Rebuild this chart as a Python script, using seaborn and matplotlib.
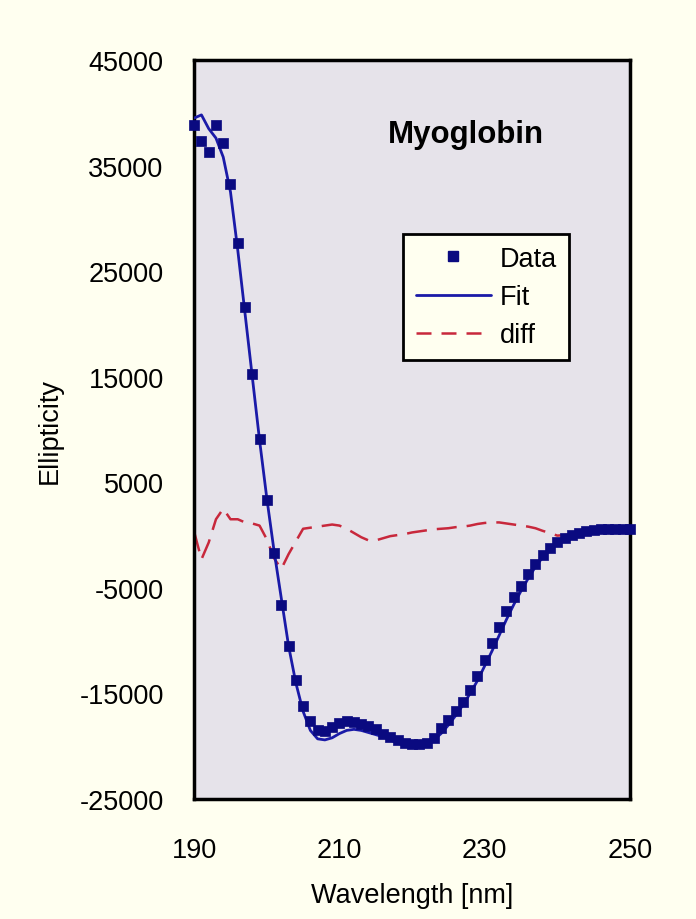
import numpy as np
import pandas as pd
import matplotlib
matplotlib.use("Agg")
import matplotlib.pyplot as plt
import seaborn as sns
from matplotlib.lines import Line2D

wavelength = list(range(190, 251))

data_vals = [38800, 37300, 36300, 38800, 37100, 33300, 27700, 21600, 15300, 9100,
             3300, -1700, -6600, -10500, -13700, -16200, -17600, -18500, -18600, -18200,
             -17800, -17600, -17700, -17900, -18100, -18400, -18800, -19100, -19400, -19700,
             -19800, -19800, -19700, -19200, -18300, -17500, -16700, -15800, -14700, -13300,
             -11800, -10200, -8700, -7200, -5900, -4800, -3700, -2700, -1900, -1200,
             -700, -300, 0, 200, 350, 450, 550, 600, 600, 600, 550]

fit_vals = [39500, 39800, 38500, 37600, 35800, 32500, 27000, 21000, 15000, 9000,
            3500, -1500, -6000, -10500, -14000, -16700, -18500, -19300, -19400, -19200,
            -18800, -18500, -18400, -18500, -18700, -18900, -19100, -19400, -19700, -19900,
            -20000, -20000, -19800, -19400, -18800, -18000, -17100, -16100, -15000, -13800,
            -12400, -11000, -9500, -8000, -6600, -5300, -4100, -3000, -2100, -1400,
            -800, -400, -100, 100, 300, 400, 500, 550, 600, 600, 550]

diff_vals = [300, -2300, -700, 1500, 2500, 1500, 1500, 1200, 1100, 900,
             -400, -2200, -3200, -1800, -600, 600, 700, 800, 900, 1000,
             900, 600, 200, -200, -500, -500, -300, -100, 0, 100,
             250, 350, 450, 550, 600, 650, 750, 800, 900, 1050,
             1150, 1200, 1200, 1100, 1000, 900, 800, 650, 400, 200,
             -50, 0, 100, 150, 200, 250, 300, 300, 300, 300, 300]

x_ticks = [190, 210, 230, 250]
y_ticks = [-25000, -15000, -5000, 5000, 15000, 25000, 35000, 45000]

df = pd.DataFrame({"Wavelength": wavelength, "Data": data_vals,
                   "Fit": fit_vals, "diff": diff_vals})

sns.set_theme(style="white")
plt.rcParams['font.family'] = ['Liberation Sans', 'DejaVu Sans']
plt.rcParams['text.color'] = 'black'
plt.rcParams['axes.labelcolor'] = 'black'

fig = plt.figure(figsize=(6.96, 9.2), dpi=100)
fig.patch.set_facecolor('#FFFFF0')
ax = fig.add_axes([0.279, 0.1304, 0.626, 0.8033])
ax.set_facecolor('#E6E3EA')

navy = '#0A0A80'
fitc = '#1A1AA8'
red = '#C8283C'

sns.lineplot(data=df, x="Wavelength", y="diff", ax=ax, color=red, lw=1.8, zorder=2)
ax.lines[-1].set_dashes([8, 4])
sns.lineplot(data=df, x="Wavelength", y="Fit", ax=ax, color=fitc, lw=2.0, zorder=3)
sns.scatterplot(data=df, x="Wavelength", y="Data", ax=ax, marker='s', s=42,
                color=navy, edgecolor=navy, linewidth=0.5, zorder=4, clip_on=False)

ax.set_xlim(190, 250)
ax.set_ylim(-25000, 45000)
ax.set_xticks(x_ticks)
ax.set_yticks(y_ticks)
ax.set_xticklabels([str(v) for v in x_ticks])
ax.set_yticklabels([str(v) for v in y_ticks])
ax.tick_params(axis='both', direction='inout', length=10, width=1.5, colors='black',
               labelsize=19.5, labelcolor='black')
ax.tick_params(axis='y', pad=17)
ax.tick_params(axis='x', pad=22)
for s in ax.spines.values():
    s.set_visible(True)
    s.set_color('black')
    s.set_linewidth(2.5)

ax.set_xlabel("Wavelength [nm]", fontsize=19.5, labelpad=14, color='black')
ax.set_ylabel("Ellipticity", fontsize=19.5, labelpad=12, color='black')

ax.text(0.624, 0.9, "Myoglobin", transform=ax.transAxes, ha='center', va='center',
        fontsize=22.5, fontweight='bold', color='black')

handles = [Line2D([], [], marker='s', ls='none', color=navy, markersize=6.5),
           Line2D([], [], color=fitc, lw=2.0),
           Line2D([], [], color=red, lw=1.8, dashes=[6, 4])]
leg = ax.legend(handles, ["Data", "Fit", "diff"], loc='upper left',
                bbox_to_anchor=(0.48, 0.765), fontsize=19.5, frameon=True,
                fancybox=False, handlelength=2.8, handletextpad=0.3,
                borderpad=0.45, labelspacing=0.45, borderaxespad=0)
leg.get_frame().set_facecolor('#FFFFF0')
leg.get_frame().set_edgecolor('black')
leg.get_frame().set_linewidth(2.0)
leg.get_frame().set_alpha(1)
for t in leg.get_texts():
    t.set_color('black')

fig.savefig("out.png", dpi=100, facecolor=fig.get_facecolor())
